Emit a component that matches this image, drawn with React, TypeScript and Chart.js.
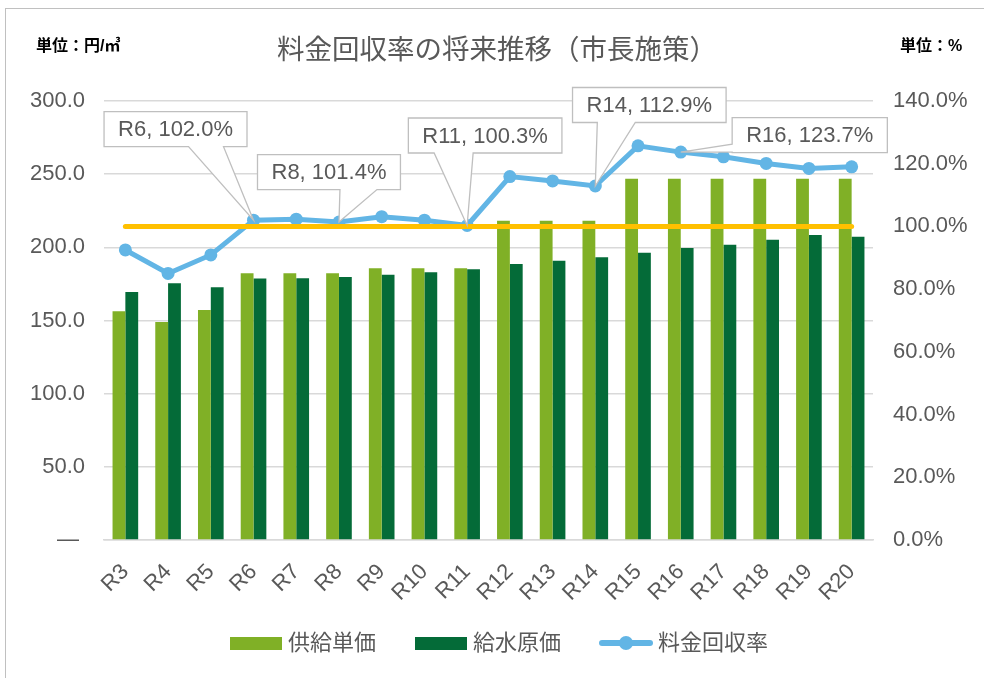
import React, { useEffect, useRef } from 'react';
import { Chart, registerables } from 'chart.js';

Chart.register(...registerables);

// ---------- data ----------
const categories = ['R3', 'R4', 'R5', 'R6', 'R7', 'R8', 'R9', 'R10', 'R11', 'R12', 'R13', 'R14', 'R15', 'R16', 'R17', 'R18', 'R19', 'R20'];
const supplyUnitPrice = [156.3, 149.0, 157.2, 182.3, 182.3, 182.3, 185.7, 185.7, 185.7, 218.2, 218.2, 218.2, 246.8, 246.8, 246.8, 246.8, 246.8, 246.8];
const waterSupplyCost = [169.4, 175.5, 172.8, 178.7, 178.9, 179.8, 181.2, 183.0, 185.1, 188.6, 190.9, 193.3, 196.3, 199.5, 201.8, 205.2, 208.4, 207.2];
const recoveryRate = [92.5, 85.0, 90.9, 102.0, 102.3, 101.4, 103.1, 102.0, 100.3, 115.9, 114.5, 112.9, 125.7, 123.7, 122.2, 120.1, 118.5, 119.0];
const targetRate = [100, 100, 100, 100, 100, 100, 100, 100, 100, 100, 100, 100, 100, 100, 100, 100, 100, 100];
const leftAxisRange = [0, 300];
const rightAxisRange = [0, 140];
const seriesNames = ['供給単価', '給水原価', '料金回収率'];
const titleText = '料金回収率の将来推移（市長施策）';
const leftUnit = '単位：円/㎥';
const rightUnit = '単位：%';
const calloutIndices = [3, 5, 8, 11, 13];

// ---------- styles ----------
const LIGHT_GREEN = '#80B026';
const DARK_GREEN = '#046B38';
const BLUE = '#62B5E5';
const ORANGE = '#FFC000';
const TEXT = '#595959';
const GRID = '#D9D9D9';
const FONT = "'Liberation Sans', Arial, 'Noto Sans CJK JP', sans-serif";
const JFONT = "'Liberation Sans', 'Noto Sans CJK JP', sans-serif";

// callout placement relative to the data point (pixels)
const calloutStyle: Record<number, { dx: number; dy: number; side: string; b1: number; b2: number }> = {
  3: { dx: -78, dy: -91, side: 'bottom', b1: 13, b2: 48 },
  5: { dx: -10, dy: -50, side: 'bottom', b1: 11, b2: 48 },
  8: { dx: 18, dy: -90, side: 'bottom', b1: -51, b2: -12 },
  11: { dx: 54, dy: -81, side: 'bottom', b1: -52, b2: -14 },
  13: { dx: 129, dy: -17, side: 'left', b1: 9, b2: 17 },
};

const calloutPlugin = {
  id: 'callouts',
  afterDatasetsDraw(chart: any) {
    const ctx = chart.ctx;
    const meta = chart.getDatasetMeta(2);
    ctx.save();
    ctx.font = `22px ${FONT}`;
    calloutIndices.forEach((i) => {
      const el = meta.data[i];
      if (!el) return;
      const st = calloutStyle[i];
      const px = el.x;
      const py = el.y;
      const text = `${categories[i]}, ${recoveryRate[i].toFixed(1)}%`;
      const w = ctx.measureText(text).width + 28;
      const h = 35;
      const cx = px + st.dx;
      const cy = py + st.dy;
      const l = cx - w / 2, r = cx + w / 2, t = cy - h / 2, b = cy + h / 2;
      ctx.beginPath();
      if (st.side === 'bottom') {
        ctx.moveTo(l, t);
        ctx.lineTo(r, t);
        ctx.lineTo(r, b);
        ctx.lineTo(cx + st.b2, b);
        ctx.lineTo(px, py);
        ctx.lineTo(cx + st.b1, b);
        ctx.lineTo(l, b);
      } else {
        ctx.moveTo(l, t);
        ctx.lineTo(r, t);
        ctx.lineTo(r, b);
        ctx.lineTo(l, b);
        ctx.lineTo(l, cy + st.b2);
        ctx.lineTo(px, py);
        ctx.lineTo(l, cy + st.b1);
      }
      ctx.closePath();
      ctx.fillStyle = '#FFFFFF';
      ctx.fill();
      ctx.strokeStyle = '#BFBFBF';
      ctx.lineWidth = 1.3;
      ctx.stroke();
      ctx.fillStyle = TEXT;
      ctx.textAlign = 'center';
      ctx.textBaseline = 'middle';
      ctx.fillText(text, cx, cy + 1);
    });
    ctx.restore();
  },
};

export default function App() {
  const canvasRef = useRef<HTMLCanvasElement | null>(null);

  useEffect(() => {
    if (!canvasRef.current) return;
    const chart = new Chart(canvasRef.current, {
      type: 'bar',
      data: {
        labels: categories,
        datasets: [
          {
            type: 'bar',
            label: seriesNames[0],
            data: supplyUnitPrice,
            backgroundColor: LIGHT_GREEN,
            yAxisID: 'y',
            order: 3,
            categoryPercentage: 0.6,
            barPercentage: 1.0,
          },
          {
            type: 'bar',
            label: seriesNames[1],
            data: waterSupplyCost,
            backgroundColor: DARK_GREEN,
            yAxisID: 'y',
            order: 3,
            categoryPercentage: 0.6,
            barPercentage: 1.0,
          },
          {
            type: 'line',
            label: seriesNames[2],
            data: recoveryRate,
            borderColor: BLUE,
            backgroundColor: BLUE,
            borderWidth: 5,
            pointRadius: 6.5,
            pointBorderWidth: 0,
            pointBackgroundColor: BLUE,
            yAxisID: 'y1',
            order: 2,
          },
          {
            type: 'line',
            label: '100%',
            data: targetRate,
            borderColor: ORANGE,
            borderWidth: 5,
            pointRadius: 0,
            borderCapStyle: 'round',
            yAxisID: 'y1',
            order: 1,
          },
        ] as any,
      },
      options: {
        animation: false,
        responsive: false,
        devicePixelRatio: 1,
        layout: { padding: { top: 101, bottom: 58, left: 0, right: 0 } },
        plugins: {
          legend: { display: false },
          title: { display: false },
          tooltip: { enabled: false },
        },
        scales: {
          x: {
            offset: true,
            grid: { display: false, drawTicks: false },
            border: { display: true, color: GRID, width: 1.5 },
            ticks: {
              color: TEXT,
              font: { size: 22, family: FONT },
              minRotation: 45,
              maxRotation: 45,
              padding: 19,
              autoSkip: false,
            },
            afterFit: (s: any) => { s.height = 80; },
          },
          y: {
            position: 'left',
            min: leftAxisRange[0],
            max: leftAxisRange[1],
            grid: { color: GRID, lineWidth: 1.5, drawTicks: false },
            border: { display: false },
            ticks: {
              stepSize: 50,
              color: TEXT,
              font: { size: 22, family: FONT },
              padding: 19,
              callback: (v: any) => (Number(v) === 0 ? '— ' : Number(v).toFixed(1)),
            },
            afterFit: (s: any) => { s.width = 104; },
          },
          y1: {
            position: 'right',
            min: rightAxisRange[0],
            max: rightAxisRange[1],
            grid: { display: false, drawTicks: false },
            border: { display: false },
            ticks: {
              stepSize: 20,
              color: TEXT,
              font: { size: 22, family: FONT },
              padding: 20,
              callback: (v: any) => Number(v).toFixed(1) + '%',
            },
            afterFit: (s: any) => { s.width = 111; },
          },
        },
      } as any,
      plugins: [calloutPlugin],
    });
    return () => chart.destroy();
  }, []);

  const legendText: React.CSSProperties = {
    position: 'absolute',
    top: 627,
    fontFamily: JFONT,
    fontSize: 22,
    color: TEXT,
    lineHeight: '32px',
    whiteSpace: 'nowrap',
  };

  const unitStyle: React.CSSProperties = {
    position: 'absolute',
    top: 32,
    fontFamily: JFONT,
    fontSize: 16,
    fontWeight: 'bold',
    color: '#000',
    whiteSpace: 'nowrap',
  };

  return (
    <div style={{ position: 'fixed', left: 0, top: 0, width: 984, height: 678, overflow: 'hidden', background: '#fff' }}>
      <div style={{ position: 'absolute', left: 5, top: 8, width: 1000, height: 700, border: '1.5px solid #C0C0C0', boxSizing: 'border-box' }} />
      <canvas ref={canvasRef} width={984} height={678} style={{ position: 'absolute', left: 0, top: 0, width: 984, height: 678 }} />
      <div style={{ ...unitStyle, left: 36 }}>{leftUnit}</div>
      <div style={{ ...unitStyle, left: 900 }}>{rightUnit}</div>
      <div style={{ position: 'absolute', left: 0, width: 994, top: 27, textAlign: 'center', fontFamily: JFONT, fontSize: 27.5, color: TEXT, whiteSpace: 'nowrap' }}>{titleText}</div>
      <div style={{ position: 'absolute', left: 230, top: 637, width: 52, height: 13, background: LIGHT_GREEN }} />
      <div style={{ ...legendText, left: 288 }}>{seriesNames[0]}</div>
      <div style={{ position: 'absolute', left: 415, top: 637, width: 52, height: 13, background: DARK_GREEN }} />
      <div style={{ ...legendText, left: 473 }}>{seriesNames[1]}</div>
      <div style={{ position: 'absolute', left: 599, top: 640, width: 54, height: 6, borderRadius: 3, background: BLUE }} />
      <div style={{ position: 'absolute', left: 619, top: 636, width: 14, height: 14, borderRadius: 7, background: BLUE }} />
      <div style={{ ...legendText, left: 658 }}>{seriesNames[2]}</div>
    </div>
  );
}
